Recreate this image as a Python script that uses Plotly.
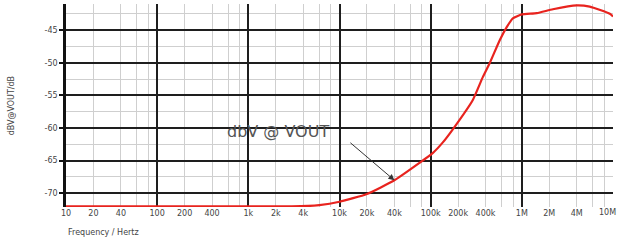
import math
import plotly.graph_objects as go

# Data
freq_hz = [10, 100, 1000, 3000, 6000, 10000, 20000, 40000, 76000, 106000, 136000,
           175000, 290000, 373000, 446000, 574000, 685000, 797000, 1000000,
           1460000, 2190000, 4000000, 5560000, 9230000, 10000000]
gain_db = [-72.0, -72.0, -72.0, -72.0, -71.8, -71.3, -70.1, -68.0, -65.3, -63.8, -62.2,
           -60.2, -55.7, -52.2, -50.0, -46.5, -44.5, -43.2, -42.6,
           -42.4, -41.8, -41.2, -41.4, -42.5, -42.9]

x_tick_vals = [10, 20, 40, 100, 200, 400, 1e3, 2e3, 4e3, 1e4, 2e4, 4e4,
               1e5, 2e5, 4e5, 1e6, 2e6, 4e6]
x_tick_text = ["10", "20", "40", "100", "200", "400", "1k", "2k", "4k", "10k", "20k", "40k",
               "100k", "200k", "400k", "1M", "2M", "4M"]
x_last_label = "10M"
y_tick_vals = [-70, -65, -60, -55, -50, -45]
y_tick_text = ["-70", "-65", "-60", "-55", "-50", "-45"]

decades = [10, 100, 1e3, 1e4, 1e5, 1e6, 1e7]
minor_x = [m * d for d in decades[:-1] for m in (2, 4, 6, 8)]
minor_y = [-67.5, -62.5, -57.5, -52.5, -47.5, -42.5]

tick_font = dict(family="DejaVu Sans", size=8, color="#444")

fig = go.Figure()
fig.add_trace(go.Scatter(x=freq_hz, y=gain_db, mode="lines",
                         line=dict(color="#e8231e", width=2.2, shape="spline", smoothing=0.5),
                         hoverinfo="skip", showlegend=False, cliponaxis=False))
fig.add_trace(go.Scatter(x=[freq_hz[0]], y=[gain_db[0]], xaxis="x2", mode="markers",
                         marker=dict(opacity=0), hoverinfo="skip", showlegend=False))

fig.update_layout(
    width=618, height=244,
    margin=dict(l=66, r=5, t=4, b=37, autoexpand=False),
    paper_bgcolor="white", plot_bgcolor="white",
    xaxis=dict(type="log", range=[1, 7], tickvals=decades, showticklabels=False,
               automargin=False,
               showgrid=True, gridcolor="#1e1e1e", gridwidth=1.5, zeroline=False,
               showline=False, ticks="",
               minor=dict(tickmode="array", tickvals=minor_x, showgrid=True,
                          gridcolor="#cfcfcf", gridwidth=1)),
    xaxis2=dict(type="log", range=[1, 7], overlaying="x", side="bottom", anchor="y",
                automargin=False, ticklabeloverflow="allow",
                tickvals=x_tick_vals, ticktext=x_tick_text, showgrid=False, zeroline=False,
                tickfont=tick_font, ticks="", showline=False),
    yaxis=dict(range=[-72.1, -41.0], tickvals=y_tick_vals, ticktext=y_tick_text,
               automargin=False,
               showgrid=True, gridcolor="#1e1e1e", gridwidth=1.5, zeroline=False,
               showline=True, linecolor="#111", linewidth=2.5,
               ticks="outside", ticklen=4, tickcolor="#111", tickwidth=1.5,
               tickfont=tick_font,
               minor=dict(tickmode="array", tickvals=minor_y, showgrid=True,
                          gridcolor="#cfcfcf", gridwidth=1)),
    annotations=[
        dict(text="dbV @ VOUT", x=(225 - 66) / 547 * 6 + 1, y=-60.5, xref="x", yref="y",
             xanchor="left", showarrow=False,
             font=dict(family="DejaVu Sans", size=16, color="#555")),
        dict(text=" ", x=math.log10(40000), y=-68.0, xref="x", yref="y",
             showarrow=True, ax=-47, ay=-40, arrowhead=2, arrowsize=1.2,
             arrowwidth=1, arrowcolor="#333", standoff=0, startstandoff=0),
        dict(text=x_last_label, xref="paper", yref="paper", x=1.008, y=0, yshift=0,
             xanchor="right", yanchor="top", showarrow=False, font=tick_font,
             borderpad=0),
        dict(text="Frequency / Hertz", xref="paper", yref="paper", x=0, y=-0.125,
             xanchor="left", yanchor="middle", showarrow=False,
             font=dict(family="DejaVu Sans", size=8, color="#444")),
        dict(text="dBV@VOUT/dB", xref="paper", yref="paper", x=-0.099, y=0.5,
             xanchor="center", yanchor="middle", textangle=-90, showarrow=False,
             font=dict(family="DejaVu Sans", size=8, color="#444")),
    ],
)

fig.write_html("out.html", config={"displayModeBar": False},
               post_script="document.body.style.margin='0';document.body.style.padding='0';")
